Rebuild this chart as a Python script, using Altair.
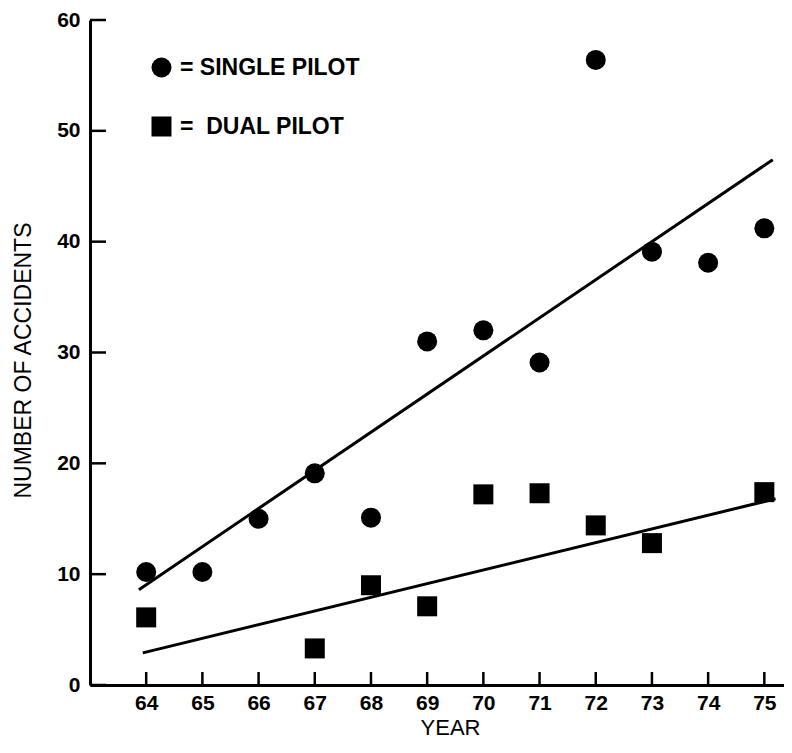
import altair as alt
import pandas as pd

# ---- data ----
years = [64, 65, 66, 67, 68, 69, 70, 71, 72, 73, 74, 75]
single_pilot = [10.2, 10.2, 15.0, 19.1, 15.1, 31.0, 32.0, 29.1, 56.4, 39.1, 38.1, 41.2]

dual_years = [64, 67, 68, 69, 70, 71, 72, 73, 75]
dual_pilot = [6.1, 3.3, 9.0, 7.1, 17.2, 17.3, 14.4, 12.8, 17.4]

# trend lines (end points)
single_trend_x = [63.87, 75.15]
single_trend_y = [8.6, 47.4]
dual_trend_x = [63.94, 75.2]
dual_trend_y = [2.9, 16.8]

x_ticks = years
y_ticks = [0, 10, 20, 30, 40, 50, 60]

series_names = ["SINGLE PILOT", "DUAL PILOT"]

# ---- tables ----
pts = pd.DataFrame(
    {"year": years + dual_years,
     "acc": single_pilot + dual_pilot,
     "series": [series_names[0]] * len(years) + [series_names[1]] * len(dual_years)}
)
trend = pd.DataFrame(
    {"year": single_trend_x + dual_trend_x,
     "acc": single_trend_y + dual_trend_y,
     "series": [series_names[0]] * 2 + [series_names[1]] * 2}
)
xt = pd.DataFrame({"year": x_ticks})
yt = pd.DataFrame({"acc": y_ticks})

FONT = "Liberation Sans"
W, H = 694, 665
PAD_TOP = 12
PAD_BOTTOM = 737 - PAD_TOP - H

xscale = alt.Scale(domain=[63, 75.35], nice=False, zero=False)
yscale = alt.Scale(domain=[0, 60], nice=False)

x_axis = alt.Axis(
    values=x_ticks, format="d", ticks=False, grid=False,
    domainColor="black", domainWidth=3,
    labelFont=FONT, labelFontSize=21, labelFontWeight="bold", labelColor="black",
    labelPadding=7,
    title="YEAR", titleFont=FONT, titleFontSize=22, titleFontWeight="normal",
    titleColor="black", titlePadding=4, titleX=360,
)
y_axis = alt.Axis(
    values=y_ticks, ticks=False, grid=False,
    domainColor="black", domainWidth=3,
    labelFont=FONT, labelFontSize=21, labelFontWeight="bold", labelColor="black",
    labelPadding=10,
    title="NUMBER OF ACCIDENTS", titleFont=FONT, titleFontSize=23,
    titleFontWeight="normal", titleColor="black",
    titleX=-67, titleY=340, titleAlign="center", titleBaseline="middle", titleAngle=270,
)

X = lambda: alt.X("year:Q", scale=xscale, axis=x_axis)
Y = lambda: alt.Y("acc:Q", scale=yscale, axis=y_axis)

points = alt.Chart(pts).mark_point(filled=True, color="black", size=400, opacity=1).encode(
    x=X(),
    y=Y(),
    shape=alt.Shape(
        "series:N",
        scale=alt.Scale(domain=series_names, range=["circle", "square"]),
        legend=alt.Legend(
            orient="none", legendX=60, legendY=36, title=None,
            symbolSize=400, symbolFillColor="black", symbolStrokeColor="black",
            symbolStrokeWidth=0,
            labelFont=FONT, labelFontSize=23, labelFontWeight="bold", labelColor="black",
            labelOffset=7, rowPadding=35, labelLimit=0,
            labelExpr="datum.label == 'DUAL PILOT' ? '=\u00a0 DUAL PILOT' : '= SINGLE PILOT'",
        ),
    ),
)

lines = alt.Chart(trend).mark_line(color="black", strokeWidth=3).encode(
    x=X(),
    y=Y(),
    detail="series:N",
)

xtick_rules = alt.Chart(xt).mark_rule(color="black", strokeWidth=2.5).encode(
    x=X(),
    y=alt.value(H),
    y2=alt.value(H - 13),
)

ytick_rules = alt.Chart(yt).mark_rule(color="black", strokeWidth=2.5).encode(
    y=Y(),
    x=alt.value(0),
    x2=alt.value(16),
)

chart = (
    alt.layer(xtick_rules, ytick_rules, lines, points)
    .properties(
        width=W, height=H,
        autosize=alt.AutoSizeParams(type="none"),
        padding={"left": 82, "top": PAD_TOP, "right": 0, "bottom": PAD_BOTTOM},
        background="white",
    )
    .configure_view(stroke=None)
)

chart.save("out.html", embed_options={"renderer": "svg", "actions": False})
